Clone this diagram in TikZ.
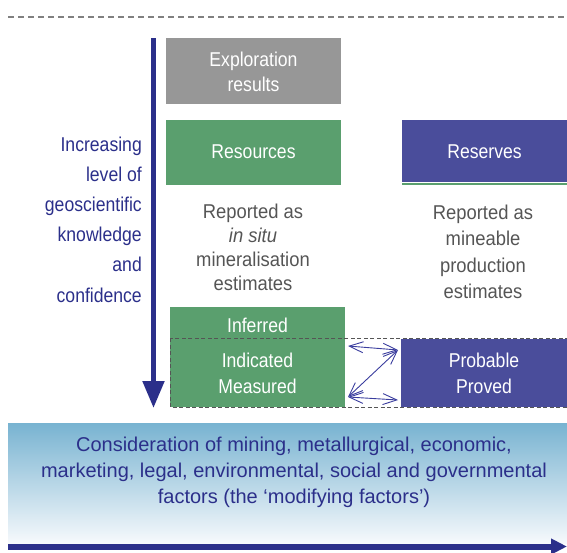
\documentclass[tikz,border=0pt]{standalone}
\usepackage{fontspec}
\setmainfont{Liberation Sans}[FakeStretch=0.88]
\newfontfamily\widefont{Liberation Sans}
\newfontfamily\grayfont{Liberation Sans}[FakeStretch=0.92]
\usetikzlibrary{arrows.meta}
\definecolor{navy}{HTML}{2B2F8A}
\definecolor{boxgreen}{HTML}{5A9F6E}
\definecolor{boxpurple}{HTML}{4A4D9B}
\definecolor{boxgray}{HTML}{979797}
\definecolor{txtgray}{HTML}{555555}
\definecolor{linkblue}{HTML}{3A3D9E}
\definecolor{gradtop}{HTML}{78B3D1}
\definecolor{gradbot}{HTML}{F6F9FC}
\tikzset{
  whitetxt/.style={text=white, font=\fontsize{20}{25.5}\selectfont, align=center, inner sep=0pt},
  graytxt/.style={text=txtgray, font=\grayfont\fontsize{20}{24}\selectfont, align=center, inner sep=0pt},
  navytxt/.style={text=navy, font=\widefont\fontsize{20}{26}\selectfont, align=center, inner sep=0pt},
  lefttxt/.style={text=navy, font=\fontsize{20}{30.2}\selectfont, align=right, inner sep=0pt, anchor=east},
  link/.style={draw=linkblue, line width=0.9pt, {Straight Barb[length=14pt,width=11pt]}-{Straight Barb[length=14pt,width=11pt]}}
}
\begin{document}
\begin{tikzpicture}[x=1pt,y=-1pt]
\useasboundingbox (0,0) rectangle (567,552);
% top dashed line
\draw[draw=gray, line width=1.2pt, dash pattern=on 6pt off 4pt] (8,17) -- (567,17);
% boxes
\fill[boxgray] (166,38) rectangle (341,104);
\node[whitetxt] (expl) at (253.5,72) {Exploration\\results};
\fill[boxgreen] (166,120) rectangle (341,185);
\node[whitetxt] (res) at (253.5,152) {Resources};
\fill[boxpurple] (402,120) rectangle (567,182);
\fill[boxgreen] (402,182.5) rectangle (567,185);
\node[whitetxt] (rsv) at (484.5,152) {Reserves};
% reported texts
\node[graytxt] (rep1) at (253,247.5) {Reported as\\\textit{in situ}\\mineralisation\\estimates};
\node[graytxt, font=\grayfont\fontsize{20}{26.5}\selectfont] (rep2) at (483,252) {Reported as\\mineable\\production\\estimates};
% inferred etc
\fill[boxgreen] (170,307) rectangle (345,407);
\node[whitetxt] (inf) at (257.5,325) {Inferred};
\node[whitetxt] (ind) at (257.5,373.5) {Indicated\\Measured};
\fill[boxpurple] (401,339) rectangle (567,407);
\node[whitetxt] (prob) at (484,373.5) {Probable\\Proved};
\draw[draw=txtgray, line width=0.9pt, dash pattern=on 4pt off 2.5pt] (170,338) rectangle (567,407);
% link arrows
\coordinate (l1) at (348,346);
\coordinate (r1) at (398,350);
\coordinate (l2) at (348,397);
\coordinate (r2) at (398,400);
\draw[link] (l1) -- (r1);
\draw[link] (r1) -- (l2);
\draw[link] (l2) -- (r2);
% vertical arrow
\coordinate (vtop) at (153.5,38);
\coordinate (vbot) at (153.5,408);
\draw[navy, line width=5pt, -{Triangle[length=27pt,width=21pt]}] (vtop) -- (vbot);
\node[lefttxt] (left) at (142,219.5) {Increasing\\level of\\geoscientific\\knowledge\\and\\confidence};
% bottom box
\shade[top color=gradtop, bottom color=gradbot] (8,423) rectangle (567,543);
\node[navytxt] (mod) at (294,472) {Consideration of mining, metallurgical, economic,\\marketing, legal, environmental, social and governmental\\factors (the ‘modifying factors’)};
\coordinate (hl) at (8,546.5);
\coordinate (hr) at (567,546.5);
\draw[navy, line width=6pt, -{Triangle[length=16pt,width=15pt]}] (hl) -- (hr);
\end{tikzpicture}
\end{document}
